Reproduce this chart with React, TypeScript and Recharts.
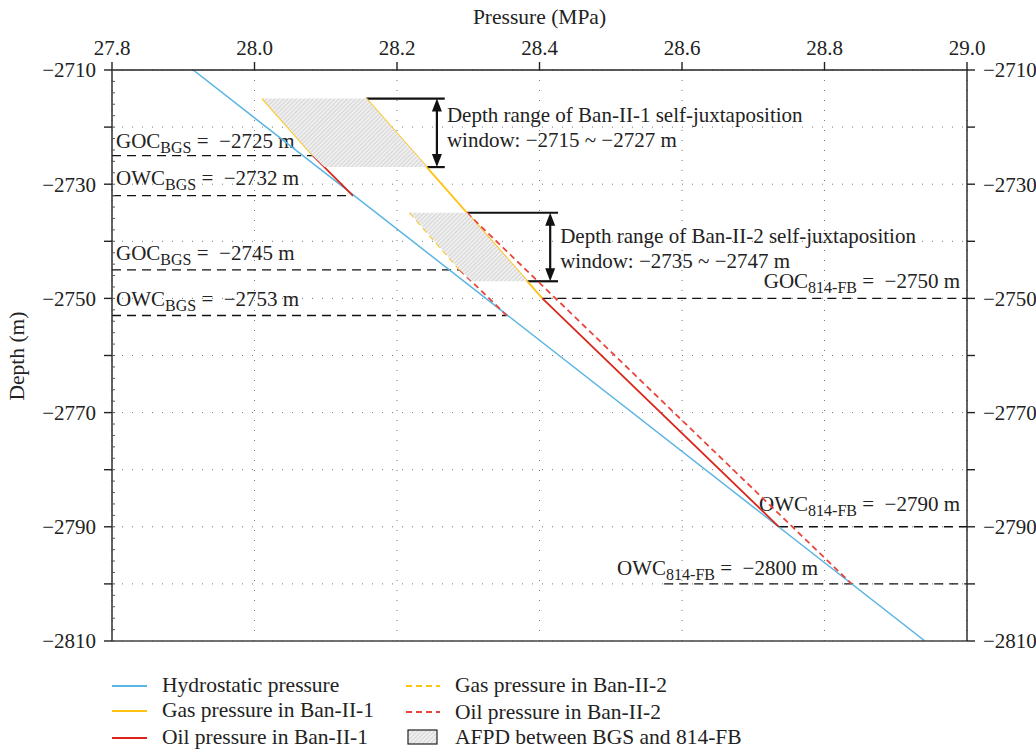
import React from "react";
import {
  ComposedChart,
  Line,
  Scatter,
  XAxis,
  YAxis,
  CartesianGrid,
  ReferenceLine,
} from "recharts";

// pressure (MPa) / depth (m) pairs
const hydrostatic = [
  { p: 27.914, d: -2710 },
  { p: 28.941, d: -2810 },
];
const gasBan1Bgs = [
  { p: 28.011, d: -2715 },
  { p: 28.082, d: -2725 },
];
const oilBan1Bgs = [
  { p: 28.082, d: -2725 },
  { p: 28.138, d: -2732 },
];
const gasBan1Fb = [
  { p: 28.157, d: -2715 },
  { p: 28.404, d: -2750 },
];
const oilBan1Fb = [
  { p: 28.404, d: -2750 },
  { p: 28.736, d: -2790 },
];
const gasBan2Bgs = [
  { p: 28.218, d: -2735 },
  { p: 28.288, d: -2745 },
];
const oilBan2Bgs = [
  { p: 28.288, d: -2745 },
  { p: 28.354, d: -2753 },
];
const oilBan2Fb = [
  { p: 28.298, d: -2735 },
  { p: 28.838, d: -2800 },
];

// AFPD hatched windows (polygon vertices)
const afpd1 = [
  { p: 28.011, d: -2715 },
  { p: 28.157, d: -2715 },
  { p: 28.242, d: -2727 },
  { p: 28.098, d: -2727 },
  { p: 28.082, d: -2725 },
];
const afpd2 = [
  { p: 28.218, d: -2735 },
  { p: 28.298, d: -2735 },
  { p: 28.383, d: -2747 },
  { p: 28.305, d: -2747 },
  { p: 28.288, d: -2745 },
];

// fluid contacts
const contacts = [
  { kind: "GOC", block: "BGS", depth: -2725, from: 27.8, to: 28.082 },
  { kind: "OWC", block: "BGS", depth: -2732, from: 27.8, to: 28.138 },
  { kind: "GOC", block: "BGS", depth: -2745, from: 27.8, to: 28.288 },
  { kind: "OWC", block: "BGS", depth: -2753, from: 27.8, to: 28.354 },
  { kind: "GOC", block: "814-FB", depth: -2750, from: 28.404, to: 29.0 },
  { kind: "OWC", block: "814-FB", depth: -2790, from: 28.736, to: 29.0 },
  { kind: "OWC", block: "814-FB", depth: -2800, from: 28.575, to: 29.0 },
];
// label placement for each contact: [anchor side, dx, lift above line]
const contactLabelPos: [string, number, number][] = [
  ["start", 4, 8],
  ["start", 4, 11],
  ["start", 4, 10],
  ["start", 4, 10],
  ["end", -7, 10],
  ["end", -7, 16],
  ["end", -149, 9],
];

// self-juxtaposition windows
const windows = [
  { name: "Ban-II-1", top: -2715, bottom: -2727, at: 28.256, capEnd: 28.267, topFrom: 28.157, bottomFrom: 28.242 },
  { name: "Ban-II-2", top: -2735, bottom: -2747, at: 28.415, capEnd: 28.426, topFrom: 28.298, bottomFrom: 28.383 },
];

const pressureTicks = [27.8, 28.0, 28.2, 28.4, 28.6, 28.8, 29.0];
const depthTicks = [-2810, -2800, -2790, -2780, -2770, -2760, -2750, -2740, -2730, -2720, -2710];
const minorPressureTicks = Array.from({ length: 61 }, (_, i) => +(27.8 + i * 0.02).toFixed(2));
const minorDepthTicks = Array.from({ length: 51 }, (_, i) => -2810 + i * 2);

const BLUE = "#5bb5e3";
const YELLOW = "#ffc20e";
const RED = "#d9261c";
const RED_DASH = "#e8453c";
const FONT = "'Liberation Serif', 'DejaVu Serif', serif";
const FS = 21;

const minus = (v: number) => `${v}`.replace("-", "\u2212");
const depthLabel = (v: number) => ((v + 2710) % 20 === 0 ? minus(v) : "");

function Hatch(props: any) {
  const pts = (props.points || []).map((q: any) => `${q.x},${q.y}`).join(" ");
  return <polygon points={pts} fill="url(#hatch)" stroke="none" />;
}

function Arrow(props: any) {
  const { x1, y1, x2, y2 } = props;
  const x = x1;
  const top = Math.min(y1, y2);
  const bot = Math.max(y1, y2);
  return (
    <g>
      <line x1={x} y1={top + 6} x2={x} y2={bot - 6} stroke="#111" strokeWidth={2.2} />
      <polygon points={`${x},${top} ${x - 5},${top + 13} ${x + 5},${top + 13}`} fill="#111" />
      <polygon points={`${x},${bot} ${x - 5},${bot - 13} ${x + 5},${bot - 13}`} fill="#111" />
    </g>
  );
}

export default function App() {
  return (
    <div style={{ position: "absolute", left: 0, top: 0, width: 1036, height: 750, background: "#fff", fontFamily: FONT }}>
      <ComposedChart width={1036} height={660} margin={{ top: 0, right: 0, bottom: 19, left: 0 }} style={{ fontFamily: FONT }}>
        <defs>
          <pattern id="hatch" width="3" height="3" patternUnits="userSpaceOnUse" patternTransform="rotate(45)">
            <rect width="3" height="3" fill="#efefef" />
            <line x1="0" y1="0" x2="0" y2="3" stroke="#c4c4c4" strokeWidth="1.2" />
          </pattern>
        </defs>
        <CartesianGrid stroke="#777" strokeDasharray="1 9" />
        <XAxis
          dataKey="p"
          type="number"
          orientation="top"
          domain={[27.8, 29.0]}
          ticks={pressureTicks}
          tickFormatter={(v: number) => v.toFixed(1)}
          height={70}
          tickSize={8}
          tickMargin={7}
          stroke="#222"
          strokeWidth={1.4}
          tick={{ fontSize: FS, fill: "#222", fontFamily: FONT }}
          allowDataOverflow
          label={{
            content: ({ viewBox }: any) => (
              <text x={viewBox.x + viewBox.width / 2} y={24} textAnchor="middle" fontSize={21.5} fill="#222" fontFamily={FONT}>
                Pressure (MPa)
              </text>
            ),
          }}
        />
        <XAxis
          xAxisId="b"
          type="number"
          orientation="bottom"
          domain={[27.8, 29.0]}
          ticks={minorPressureTicks}
          tickFormatter={() => ""}
          mirror
          tickSize={3}
          height={19}
          stroke="#444"
          strokeWidth={1.6}
          allowDataOverflow
        />
        <YAxis
          dataKey="d"
          type="number"
          domain={[-2810, -2710]}
          ticks={depthTicks}
          tickFormatter={depthLabel}
          width={112}
          tickSize={8}
          tickMargin={8}
          stroke="#222"
          strokeWidth={1.4}
          tick={{ fontSize: FS, fill: "#222", fontFamily: FONT }}
          allowDataOverflow
          label={{
            content: () => (
              <text x={24} y={356} transform="rotate(-90 24 356)" textAnchor="middle" fontSize={21.5} fill="#222" fontFamily={FONT}>
                Depth (m)
              </text>
            ),
          }}
        />
        <YAxis
          yAxisId="minor"
          type="number"
          domain={[-2810, -2710]}
          ticks={minorDepthTicks}
          tickFormatter={() => ""}
          mirror
          axisLine={false}
          tickSize={3}
          stroke="#555"
          allowDataOverflow
        />
        <YAxis
          yAxisId="r"
          type="number"
          orientation="right"
          domain={[-2810, -2710]}
          ticks={depthTicks}
          tickFormatter={depthLabel}
          width={69}
          tickSize={8}
          tickMargin={8}
          stroke="#222"
          strokeWidth={1.4}
          tick={{ fontSize: FS, fill: "#222", fontFamily: FONT }}
          allowDataOverflow
        />

        <Scatter data={afpd1} line={<Hatch />} shape={() => <g />} isAnimationActive={false} />
        <Scatter data={afpd2} line={<Hatch />} shape={() => <g />} isAnimationActive={false} />

        {contacts.map((c, i) => {
          const [anchor, dx, lift] = contactLabelPos[i];
          return (
            <ReferenceLine
              key={`c${i}`}
              segment={[
                { x: c.from, y: c.depth },
                { x: c.to, y: c.depth },
              ]}
              stroke="#111"
              strokeWidth={1.4}
              strokeDasharray="9 6"
              label={{
                content: ({ viewBox }: any) => {
                  const x = anchor === "start" ? viewBox.x + dx : viewBox.x + viewBox.width + dx;
                  const y = viewBox.y - lift;
                  return (
                    <text x={x} y={y} textAnchor={anchor as any} fontSize={FS} fill="#222" fontFamily={FONT}>
                      {c.kind}
                      <tspan fontSize={16} dy={5}>{c.block}</tspan>
                      <tspan dy={-5}>{` = \u00a0${minus(c.depth)} m`}</tspan>
                    </text>
                  );
                },
              }}
            />
          );
        })}

        {windows.map((w) => (
          <ReferenceLine
            key={`t${w.name}`}
            segment={[
              { x: w.topFrom, y: w.top },
              { x: w.capEnd, y: w.top },
            ]}
            stroke="#111"
            strokeWidth={2.2}
          />
        ))}
        {windows.map((w) => (
          <ReferenceLine
            key={`b${w.name}`}
            segment={[
              { x: w.bottomFrom, y: w.bottom },
              { x: w.capEnd, y: w.bottom },
            ]}
            stroke="#111"
            strokeWidth={2.2}
          />
        ))}
        {windows.map((w, i) => (
          <ReferenceLine
            key={`a${w.name}`}
            segment={[
              { x: w.at, y: w.top },
              { x: w.at, y: w.bottom },
            ]}
            shape={<Arrow />}
            label={{
              content: ({ viewBox }: any) => (
                <text x={viewBox.x + 10} y={viewBox.y + (i === 0 ? 23 : 30)} fontSize={FS} fill="#222" fontFamily={FONT}>
                  <tspan x={viewBox.x + 10}>{`Depth range of ${w.name} self-juxtaposition`}</tspan>
                  <tspan x={viewBox.x + 10} dy={25}>{`window: ${minus(w.top)} ~ ${minus(w.bottom)} m`}</tspan>
                </text>
              ),
            }}
          />
        ))}

        <Line data={hydrostatic} dataKey="d" stroke={BLUE} strokeWidth={1.5} dot={false} activeDot={false} isAnimationActive={false} />
        <Line data={gasBan1Bgs} dataKey="d" stroke={YELLOW} strokeWidth={1.8} dot={false} activeDot={false} isAnimationActive={false} />
        <Line data={gasBan1Fb} dataKey="d" stroke={YELLOW} strokeWidth={1.8} dot={false} activeDot={false} isAnimationActive={false} />
        <Line data={oilBan1Bgs} dataKey="d" stroke={RED} strokeWidth={1.8} dot={false} activeDot={false} isAnimationActive={false} />
        <Line data={oilBan1Fb} dataKey="d" stroke={RED} strokeWidth={1.8} dot={false} activeDot={false} isAnimationActive={false} />
        <Line data={gasBan2Bgs} dataKey="d" stroke={YELLOW} strokeWidth={1.8} strokeDasharray="6 4" dot={false} activeDot={false} isAnimationActive={false} />
        <Line data={oilBan2Bgs} dataKey="d" stroke={RED_DASH} strokeWidth={1.8} strokeDasharray="6 4" dot={false} activeDot={false} isAnimationActive={false} />
        <Line data={oilBan2Fb} dataKey="d" stroke={RED_DASH} strokeWidth={1.8} strokeDasharray="6 4" dot={false} activeDot={false} isAnimationActive={false} />
      </ComposedChart>

      {/* legend */}
      <svg width={1036} height={90} style={{ position: "absolute", left: 0, top: 660 }}>
        <g fontSize={21.5} fill="#222" fontFamily={FONT}>
          <line x1={112} x2={147} y1={26} y2={26} stroke={BLUE} strokeWidth={2} />
          <text x={162} y={32}>Hydrostatic pressure</text>
          <line x1={112} x2={147} y1={51} y2={51} stroke={YELLOW} strokeWidth={2} />
          <text x={162} y={57}>Gas pressure in Ban-II-1</text>
          <line x1={112} x2={147} y1={78} y2={78} stroke={RED} strokeWidth={2} />
          <text x={162} y={84}>Oil pressure in Ban-II-1</text>

          <line x1={406} x2={440} y1={26} y2={26} stroke={YELLOW} strokeWidth={2} strokeDasharray="6 4" />
          <text x={455} y={32}>Gas pressure in Ban-II-2</text>
          <line x1={406} x2={440} y1={52} y2={52} stroke={RED_DASH} strokeWidth={2} strokeDasharray="6 4" />
          <text x={455} y={59}>Oil pressure in Ban-II-2</text>
          <rect x={408} y={70} width={29} height={14} fill="url(#hatch)" stroke="#222" strokeWidth={1.2} />
          <text x={455} y={84}>AFPD between BGS and 814-FB</text>
        </g>
      </svg>
    </div>
  );
}
